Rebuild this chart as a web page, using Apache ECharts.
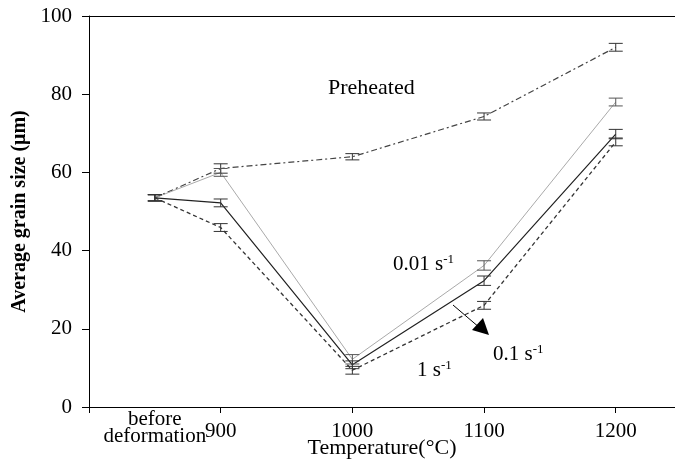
<!DOCTYPE html>
<html><head><meta charset="utf-8">
<script src="https://cdn.jsdelivr.net/npm/echarts@6/dist/echarts.min.js"></script>
<style>html,body{margin:0;padding:0;background:#fff}#c{width:675px;height:468px}</style>
</head><body><div id="c"></div>
<script>
// x positions: 850 = "before deformation"
const temps = [850, 900, 1000, 1100, 1200];
const tickLabels = [900, 1000, 1100, 1200];
const preheated = [53.5, 61.0, 64.0, 74.3, 92.0];
const rate001 = [53.5, 60.0, 12.2, 36.2, 78.0];
const rate01 = [53.5, 52.2, 10.8, 32.3, 69.8];
const rate1 = [53.5, 45.9, 9.4, 26.0, 67.8];
const errPre = [0.8, 1.2, 0.8, 0.9, 1.0];
const err001 = [0.8, 1.0, 1.2, 1.2, 1.0];
const err01 = [0.8, 1.0, 1.0, 1.2, 1.2];
const err1 = [0.8, 1.0, 1.0, 1.0, 1.0];

const F = '"Liberation Serif", "Times New Roman", serif';
const chart = echarts.init(document.getElementById('c'));

function pts(v){ return temps.map((t,i)=>[t, v[i]]); }
function errData(v,e){ return temps.map((t,i)=>[t, v[i]-e[i], v[i]+e[i]]); }
function errSeries(v,e,color){
  return {
    type:'custom', xAxisIndex:0, yAxisIndex:0, silent:true, z:5,
    data: errData(v,e),
    renderItem(params, api){
      const lo = api.coord([api.value(0), api.value(1)]);
      const hi = api.coord([api.value(0), api.value(2)]);
      const w = 7;
      const st = {stroke:color, lineWidth:1};
      return {type:'group', children:[
        {type:'line', shape:{x1:lo[0],y1:lo[1],x2:hi[0],y2:hi[1]}, style:st},
        {type:'line', shape:{x1:lo[0]-w,y1:lo[1],x2:lo[0]+w,y2:lo[1]}, style:st},
        {type:'line', shape:{x1:hi[0]-w,y1:hi[1],x2:hi[0]+w,y2:hi[1]}, style:st}
      ]};
    }
  };
}
function line(v, color, type, width){
  return {type:'line', data:pts(v), symbol:'none', xAxisIndex:0, yAxisIndex:0,
    lineStyle:{color, type, width}, z:3};
}

chart.setOption({
  animation:false,
  backgroundColor:'#fff',
  grid:{left:89, right:0, top:16, bottom:61},
  xAxis:[
    {type:'value', min:800, max:1245, interval:100, position:'bottom',
     axisLine:{lineStyle:{color:'#000', width:1}},
     axisTick:{show:true, inside:false, length:6, lineStyle:{color:'#000'}},
     axisLabel:{fontFamily:F, fontSize:21, color:'#000', margin:14, showMaxLabel:false,
       formatter:v => tickLabels.includes(v) ? String(v) : ''},
     splitLine:{show:false}},
    {type:'value', min:800, max:1245, interval:50, position:'bottom',
     axisLine:{show:false}, axisTick:{show:false}, splitLine:{show:false},
     axisLabel:{fontFamily:F, fontSize:21, color:'#000', margin:4, lineHeight:17, showMaxLabel:false,
       formatter:v => v === 850 ? 'before\ndeformation' : ''}},
    {type:'value', min:800, max:1245, position:'top',
     axisLine:{lineStyle:{color:'#000'}}, axisTick:{show:false}, axisLabel:{show:false}, splitLine:{show:false}}
  ],
  yAxis:{type:'value', min:0, max:100, interval:20,
    name:'Average grain size (\u03bcm)', nameLocation:'middle', nameGap:53,
    nameTextStyle:{fontFamily:F, fontSize:20, fontWeight:'bold', color:'#000'},
    axisLine:{show:true, lineStyle:{color:'#000'}},
    axisTick:{show:true, length:7, lineStyle:{color:'#000'}},
    axisLabel:{fontFamily:F, fontSize:21, color:'#000', margin:17},
    splitLine:{show:false}},
  series:[
    line(preheated, '#444', [6,3,2,3], 1.2),
    line(rate001, '#aaa', 'solid', 1),
    line(rate01, '#222', 'solid', 1.2),
    line(rate1, '#333', [4,3], 1.3),
    errSeries(preheated, errPre, '#333'),
    errSeries(rate001, err001, '#555'),
    errSeries(rate01, err01, '#333'),
    errSeries(rate1, err1, '#333')
  ],
  graphic:[
    {type:'text', left:328, top:77, style:{text:'Preheated', font:'22px '+F, fill:'#000'}},
    {type:'text', left:393, top:253, style:{
      text:'{n|0.01 s}{s|-1}', rich:{n:{font:'21px '+F, fill:'#000'}, s:{font:'13px '+F, fill:'#000', padding:[0,0,10,0]}}}},
    {type:'text', left:493, top:343, style:{
      text:'{n|0.1 s}{s|-1}', rich:{n:{font:'21px '+F, fill:'#000'}, s:{font:'13px '+F, fill:'#000', padding:[0,0,10,0]}}}},
    {type:'text', left:417, top:359, style:{
      text:'{n|1 s}{s|-1}', rich:{n:{font:'21px '+F, fill:'#000'}, s:{font:'13px '+F, fill:'#000', padding:[0,0,10,0]}}}},
    {type:'line', shape:{x1:453, y1:305, x2:480, y2:328}, style:{stroke:'#000', lineWidth:1}},
    {type:'polygon', shape:{points:[[472,330],[483,318],[489,335]]}, style:{fill:'#000'}},
    {type:'text', x:382, y:448, style:{text:'Temperature(\u00b0C)', font:'22px '+F, fill:'#000', align:'center', verticalAlign:'middle'}}
  ]
});
</script></body></html>
